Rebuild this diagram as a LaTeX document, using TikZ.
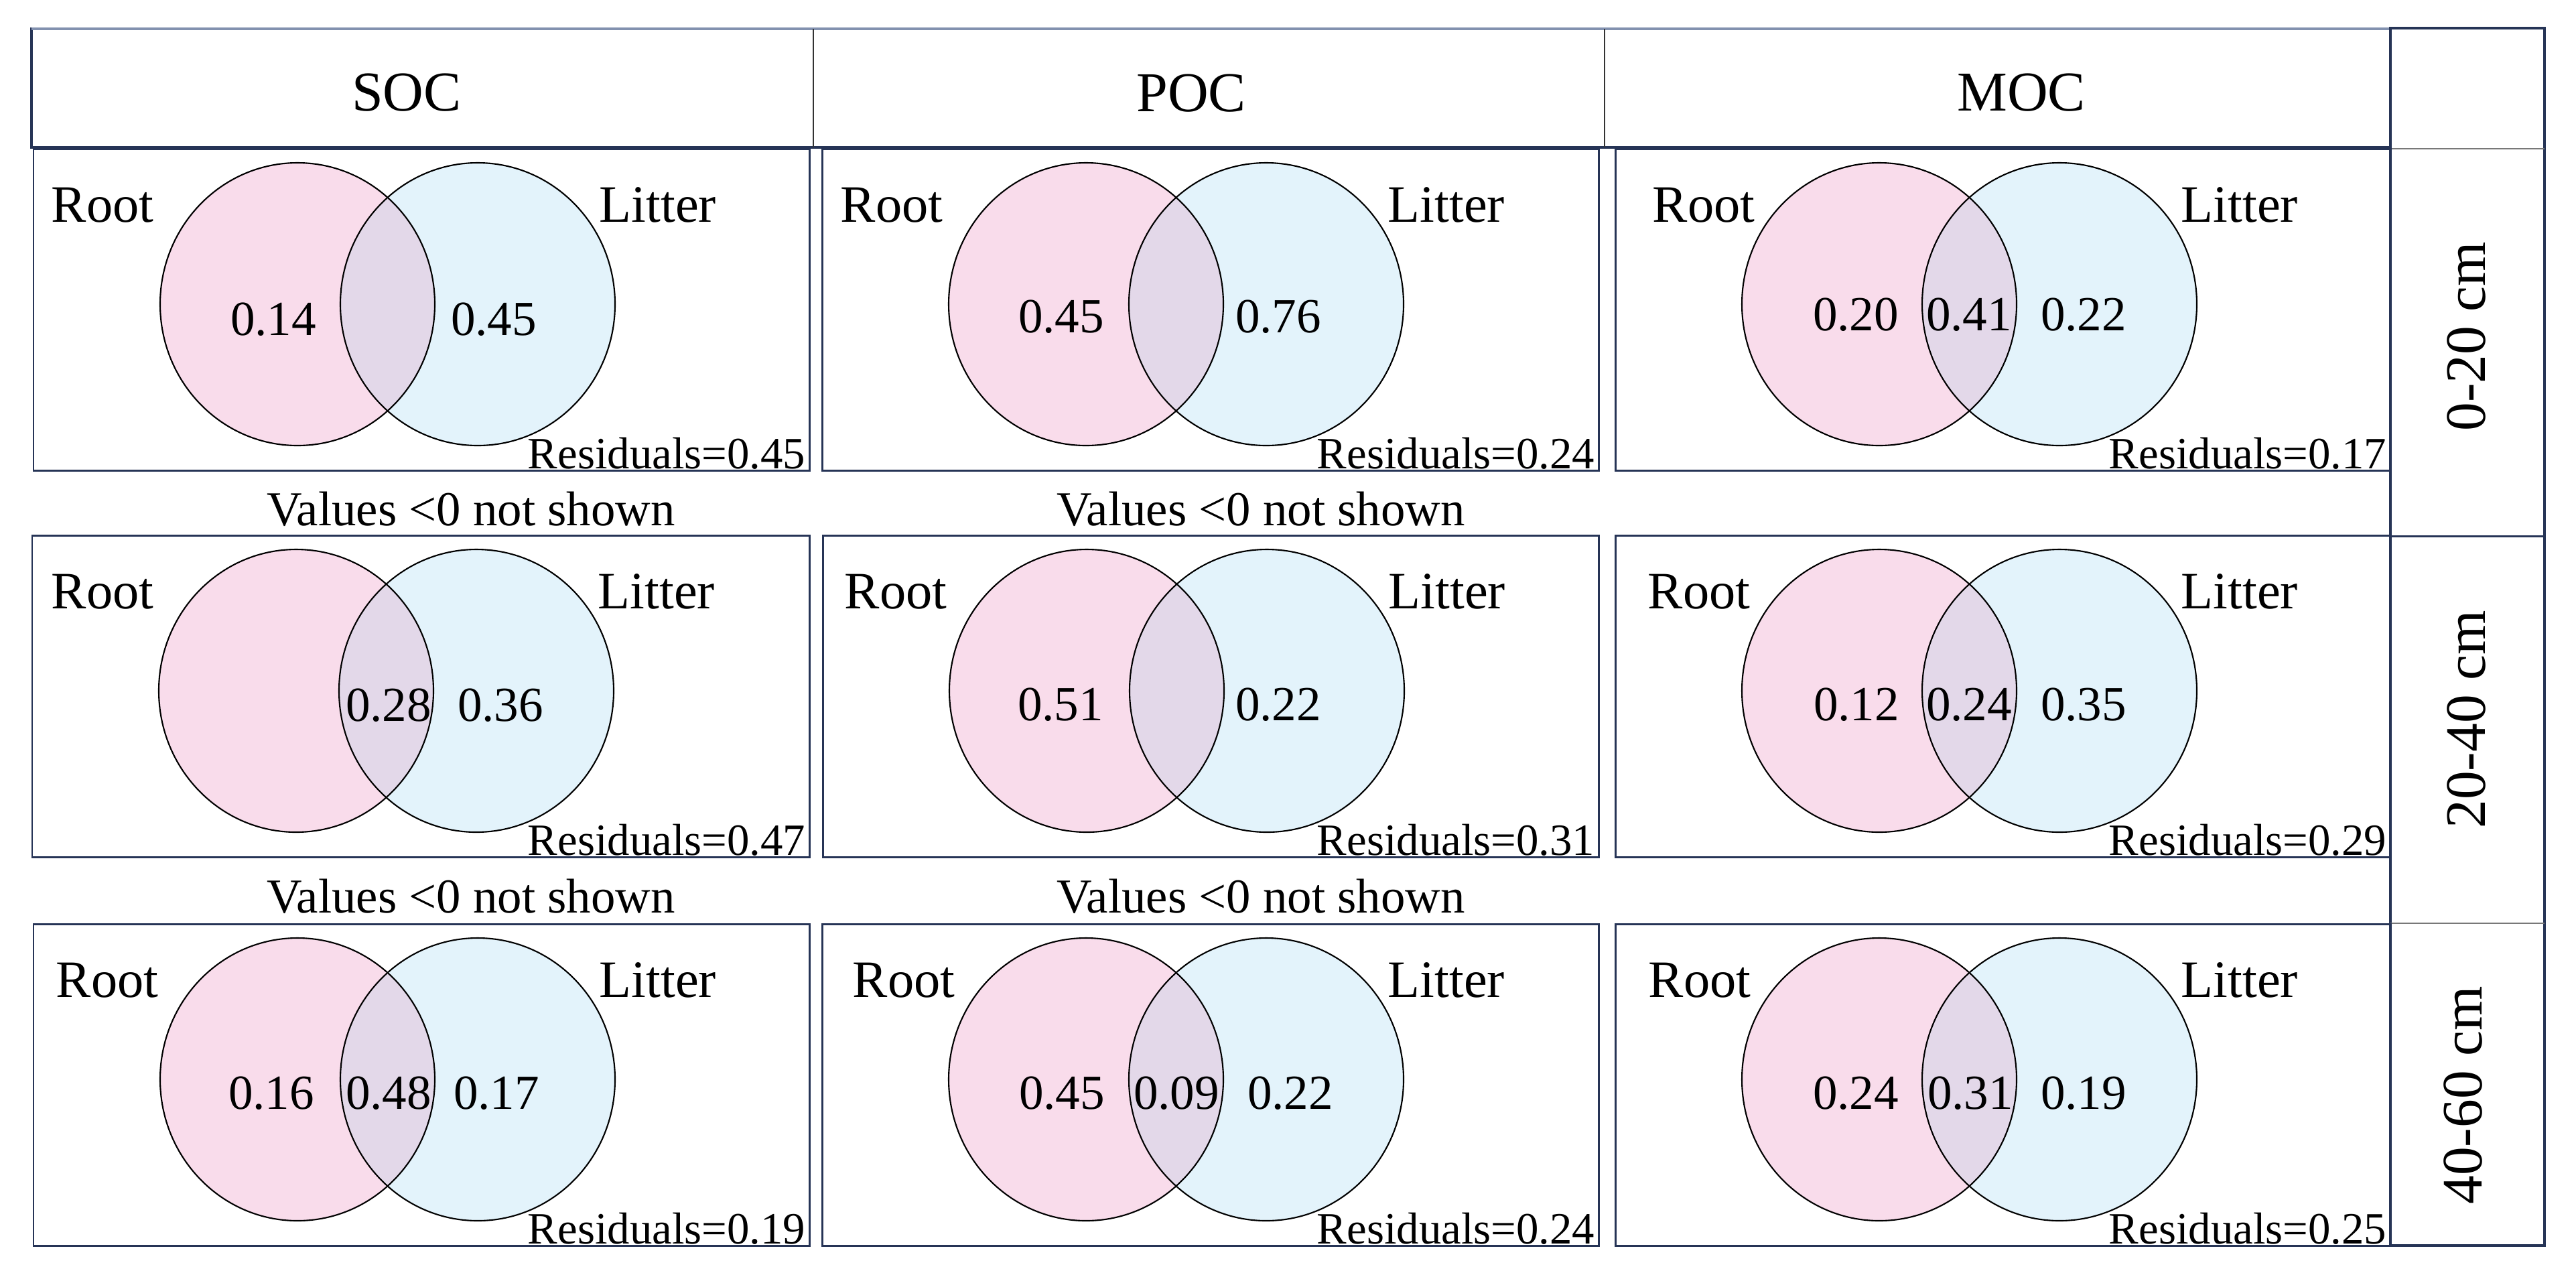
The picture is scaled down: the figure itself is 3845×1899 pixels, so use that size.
\documentclass[tikz,border=0pt]{standalone}
\usepackage{fontspec}
\setmainfont{Liberation Serif}
\definecolor{navy}{RGB}{38,52,86}
\definecolor{topline}{RGB}{130,145,175}
\definecolor{grayline}{RGB}{120,120,120}
\definecolor{pinkfill}{RGB}{249,220,235}
\definecolor{bluefill}{RGB}{227,243,251}
\definecolor{overlapfill}{RGB}{227,216,233}
\tikzset{
  panelbox/.style={draw=navy, line width=0.85pt},
  headbox/.style={draw=navy, line width=1.1pt},
  thinline/.style={draw=grayline, line width=0.5pt},
  vennline/.style={draw=black, line width=0.6pt},
  lab/.style={inner sep=0pt, font=\fontsize{22.3pt}{26pt}\selectfont},
  num/.style={inner sep=0pt, anchor=base, font=\fontsize{20.8pt}{24pt}\selectfont},
  resid/.style={inner sep=0pt, anchor=base east, font=\fontsize{19pt}{22pt}\selectfont},
  vals/.style={inner sep=0pt, anchor=base, font=\fontsize{20.7pt}{24pt}\selectfont},
  head/.style={inner sep=0pt, anchor=base, font=\fontsize{23.9pt}{28pt}\selectfont},
  depthlab/.style={inner sep=0pt, rotate=90, font=\fontsize{24.3pt}{28pt}\selectfont}
}
\newcommand{\vpanel}[6]{%
  \draw[panelbox] (#2,#3) rectangle (#4,#3+480);
  \fill[pinkfill] (#2+394,#3+232) ellipse [x radius=205, y radius=211];
  \fill[bluefill] (#2+663,#3+232) ellipse [x radius=205, y radius=211];
  \begin{scope}
    \clip (#2+394,#3+232) ellipse [x radius=205, y radius=211];
    \fill[overlapfill] (#2+663,#3+232) ellipse [x radius=205, y radius=211];
  \end{scope}
  \draw[vennline] (#2+394,#3+232) ellipse [x radius=205, y radius=211];
  \draw[vennline] (#2+663,#3+232) ellipse [x radius=205, y radius=211];
  \node[lab, anchor=base west] (#1-root) at (#2+#5,#3+109) {Root};
  \node[lab, anchor=base west] (#1-litter) at (#2+844,#3+109) {Litter};
  \node[resid] (#1-res) at (#4-5,#3+477) {Residuals=#6};
}
\begin{document}
\begin{tikzpicture}[x=0.01cm, y=-0.01cm]
\useasboundingbox (0,0) rectangle (3845,1899);
% header
\draw[headbox] (47,43) rectangle (3568,220);
\draw[draw=topline, line width=1.3pt] (47,43) -- (3568,43);
\draw[draw=black!80, line width=0.5pt] (1214,43) -- (1214,220);
\draw[draw=black!80, line width=0.5pt] (2395,43) -- (2395,220);
\node[head] (soc) at (607,165) {SOC};
\node[head] (poc) at (1778,166) {POC};
\node[head] (moc) at (3017,165) {MOC};
% right column
\draw[headbox] (3568,42) rectangle (3798,1859);
\draw[thinline] (3568,222) -- (3798,222);
\draw[panelbox] (3568,800) -- (3798,800);
\draw[thinline] (3568,1378) -- (3798,1378);
\node[depthlab] (d1) at (3681,502) {0-20 cm};
\node[depthlab] (d2) at (3681,1074) {20-40 cm};
\node[depthlab] (d3) at (3676,1635) {40-60 cm};
% row 1
\vpanel{soc1}{50}{222}{1208}{26}{0.45}
\vpanel{poc1}{1227}{222}{2386}{27}{0.24}
\vpanel{moc1}{2411}{222}{3568}{55}{0.17}
\node[num] (soc1-a) at (408,500) {0.14};
\node[num] (soc1-b) at (737,500) {0.45};
\node[num] (poc1-a) at (1584,496) {0.45};
\node[num] (poc1-b) at (1908,496) {0.76};
\node[num] (moc1-a) at (2770,493) {0.20};
\node[num] (moc1-c) at (2939,493) {0.41};
\node[num] (moc1-b) at (3110,493) {0.22};
\node[vals] (v1) at (703,784) {Values <0 not shown};
\node[vals] (v2) at (1882,784) {Values <0 not shown};
% row 2
\vpanel{soc2}{48}{799}{1208}{28}{0.47}
\vpanel{poc2}{1228}{799}{2386}{32}{0.31}
\vpanel{moc2}{2411}{799}{3568}{48}{0.29}
\node[num] (soc2-c) at (580,1076) {0.28};
\node[num] (soc2-b) at (747,1076) {0.36};
\node[num] (poc2-a) at (1583,1075) {0.51};
\node[num] (poc2-b) at (1908,1075) {0.22};
\node[num] (moc2-a) at (2771,1075) {0.12};
\node[num] (moc2-c) at (2939,1075) {0.24};
\node[num] (moc2-b) at (3110,1075) {0.35};
\node[vals] (v3) at (703,1362) {Values <0 not shown};
\node[vals] (v4) at (1882,1362) {Values <0 not shown};
% row 3
\vpanel{soc3}{50}{1379}{1208}{33}{0.19}
\vpanel{poc3}{1227}{1379}{2386}{45}{0.24}
\vpanel{moc3}{2411}{1379}{3568}{49}{0.25}
\node[num] (soc3-a) at (405,1655) {0.16};
\node[num] (soc3-c) at (580,1655) {0.48};
\node[num] (soc3-b) at (741,1655) {0.17};
\node[num] (poc3-a) at (1585,1655) {0.45};
\node[num] (poc3-c) at (1756,1655) {0.09};
\node[num] (poc3-b) at (1926,1655) {0.22};
\node[num] (moc3-a) at (2770,1655) {0.24};
\node[num] (moc3-c) at (2941,1655) {0.31};
\node[num] (moc3-b) at (3110,1655) {0.19};
\end{tikzpicture}
\end{document}
